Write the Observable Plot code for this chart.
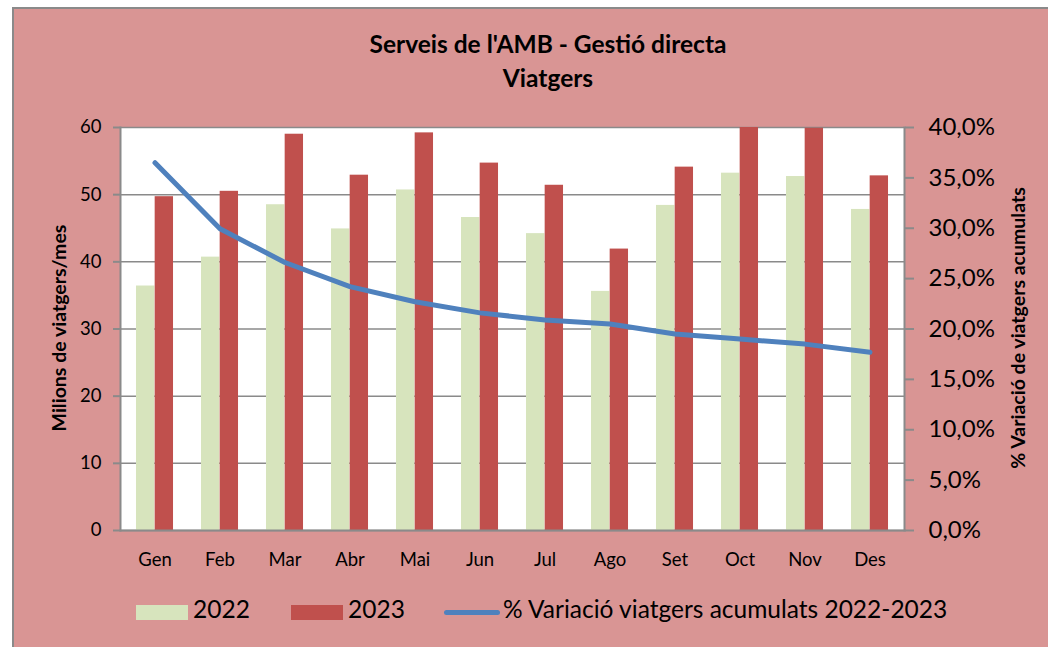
<!DOCTYPE html>
<html><head><meta charset="utf-8">
<script src="https://cdn.jsdelivr.net/npm/d3@7"></script>
<script src="https://cdn.jsdelivr.net/npm/@observablehq/plot@0.6"></script>
<style>
html,body{margin:0;padding:0;background:#fff;overflow:hidden;width:1048px;height:647px;font-family:Lato,"Open Sans",sans-serif;color:#000;}
#box{position:absolute;left:12px;top:7px;width:1060px;height:660px;background:#D99594;border:2px solid #8a8a8a;box-sizing:border-box;}
#chart{position:absolute;left:0;top:0;}
.t{position:absolute;white-space:nowrap;}
.title{left:548px;transform:translateX(-50%);font-weight:bold;font-size:24.5px;text-align:center;}
.ylab{font-weight:bold;font-size:19.5px;transform:translate(-50%,-50%) rotate(-90deg);}
.sw{position:absolute;}
.lg{font-size:24.5px;}
</style>
</head><body>
<div id="box"></div>
<div id="chart"></div>
<div class="t title" style="top:29px">Serveis de l'AMB - Gestió directa</div>
<div class="t title" style="top:63px">Viatgers</div>
<div class="t ylab" style="left:58px;top:328px">Milions de viatgers/mes</div>
<div class="t ylab" style="left:1017px;top:328px">% Variació de viatgers acumulats</div>
<div id="legend"></div>
<script>
const months = ["Gen","Feb","Mar","Abr","Mai","Jun","Jul","Ago","Set","Oct","Nov","Des"];
const v2022 = [36.4,40.7,48.5,44.9,50.7,46.6,44.2,35.6,48.4,53.2,52.7,47.8];
const v2023 = [49.7,50.5,59.0,52.9,59.2,54.7,51.4,41.9,54.1,60.4,59.9,52.8];
const variacio = [0.365,0.2995,0.266,0.242,0.227,0.216,0.209,0.205,0.195,0.190,0.185,0.177];
const leftTicks = [0,10,20,30,40,50,60];
const rightTicks = [0,0.05,0.10,0.15,0.20,0.25,0.30,0.35,0.40];
const series = ["2022","2023"];
const colors = {"2022":"#D7E4BD","2023":"#C0504D"};
const lineColor = "#4F81BD";

const W = 1048, H = 647;
const mL = 120, mR = 144, mT = 127, mB = 117;
const bw = (W - mL - mR) / months.length;
const barW = bw * 0.286;
const ratio = 60 / 0.40; // right axis maps 0–40% onto 0–60

const bars = [];
months.forEach((m, i) => {
  bars.push({month: m, year: "2022", value: v2022[i]});
  bars.push({month: m, year: "2023", value: v2023[i]});
});
const line = months.map((m, i) => ({month: m, pct: variacio[i]}));

const gray = "#8a8a8a";
const chart = Plot.plot({
  width: W, height: H,
  marginLeft: mL, marginRight: mR, marginTop: mT, marginBottom: mB,
  style: {background: "transparent", fontFamily: "Lato, 'Open Sans', sans-serif", color: "#000"},
  x: {type: "band", domain: months, padding: 0, label: null},
  y: {domain: [0, 60], label: null},
  marks: [
    Plot.frame({fill: "white", stroke: null}),
    Plot.gridY(leftTicks, {stroke: gray, strokeOpacity: 1, strokeWidth: 1.5}),
    Plot.barY(bars.filter(d => d.year === "2022"), {x: "month", y: "value", fill: colors["2022"], insetLeft: bw/2 - barW, insetRight: bw/2, clip: true}),
    Plot.barY(bars.filter(d => d.year === "2023"), {x: "month", y: "value", fill: colors["2023"], insetLeft: bw/2, insetRight: bw/2 - barW, clip: true}),
    Plot.line(line, {x: "month", y: d => d.pct * ratio, stroke: lineColor, strokeWidth: 5, strokeLinecap: "round", strokeLinejoin: "round"}),
    Plot.frame({stroke: gray, strokeWidth: 2, anchor: "left"}),
    Plot.frame({stroke: gray, strokeWidth: 2, anchor: "right"}),
    Plot.frame({stroke: gray, strokeWidth: 2, anchor: "bottom"}),
    Plot.axisY(leftTicks, {anchor: "left", tickSize: 7, tickPadding: 12, fontSize: 18.5, stroke: gray, strokeWidth: 2, label: null}),
    Plot.axisY(rightTicks.map(d => d * ratio), {anchor: "right", tickSize: 9, tickPadding: 15, fontSize: 24, stroke: gray, strokeWidth: 2, label: null,
      tickFormat: d => (d / ratio * 100).toFixed(1).replace(".", ",") + "%"}),
    Plot.axisX({anchor: "bottom", tickSize: 0, tickPadding: 22, fontSize: 18.5, label: null})
  ]
});
document.getElementById("chart").appendChild(chart);

// Legend
const legend = document.getElementById("legend");
const items = [
  {type: "rect", color: colors["2022"], text: series[0], sx: 136, tx: 193},
  {type: "rect", color: colors["2023"], text: series[1], sx: 291, tx: 348},
  {type: "line", color: lineColor, text: "% Variació viatgers acumulats 2022-2023", sx: 444, tx: 503}
];
items.forEach(it => {
  const s = document.createElement("div");
  s.className = "sw";
  if (it.type === "rect") {
    Object.assign(s.style, {left: it.sx + "px", top: "605px", width: "52px", height: "15px", background: it.color});
  } else {
    Object.assign(s.style, {left: it.sx + "px", top: "610px", width: "56px", height: "5px", background: it.color, borderRadius: "3px"});
  }
  legend.appendChild(s);
  const t = document.createElement("div");
  t.className = "t lg";
  t.textContent = it.text;
  Object.assign(t.style, {left: it.tx + "px", top: "594px"});
  legend.appendChild(t);
});
</script>
</body></html>
